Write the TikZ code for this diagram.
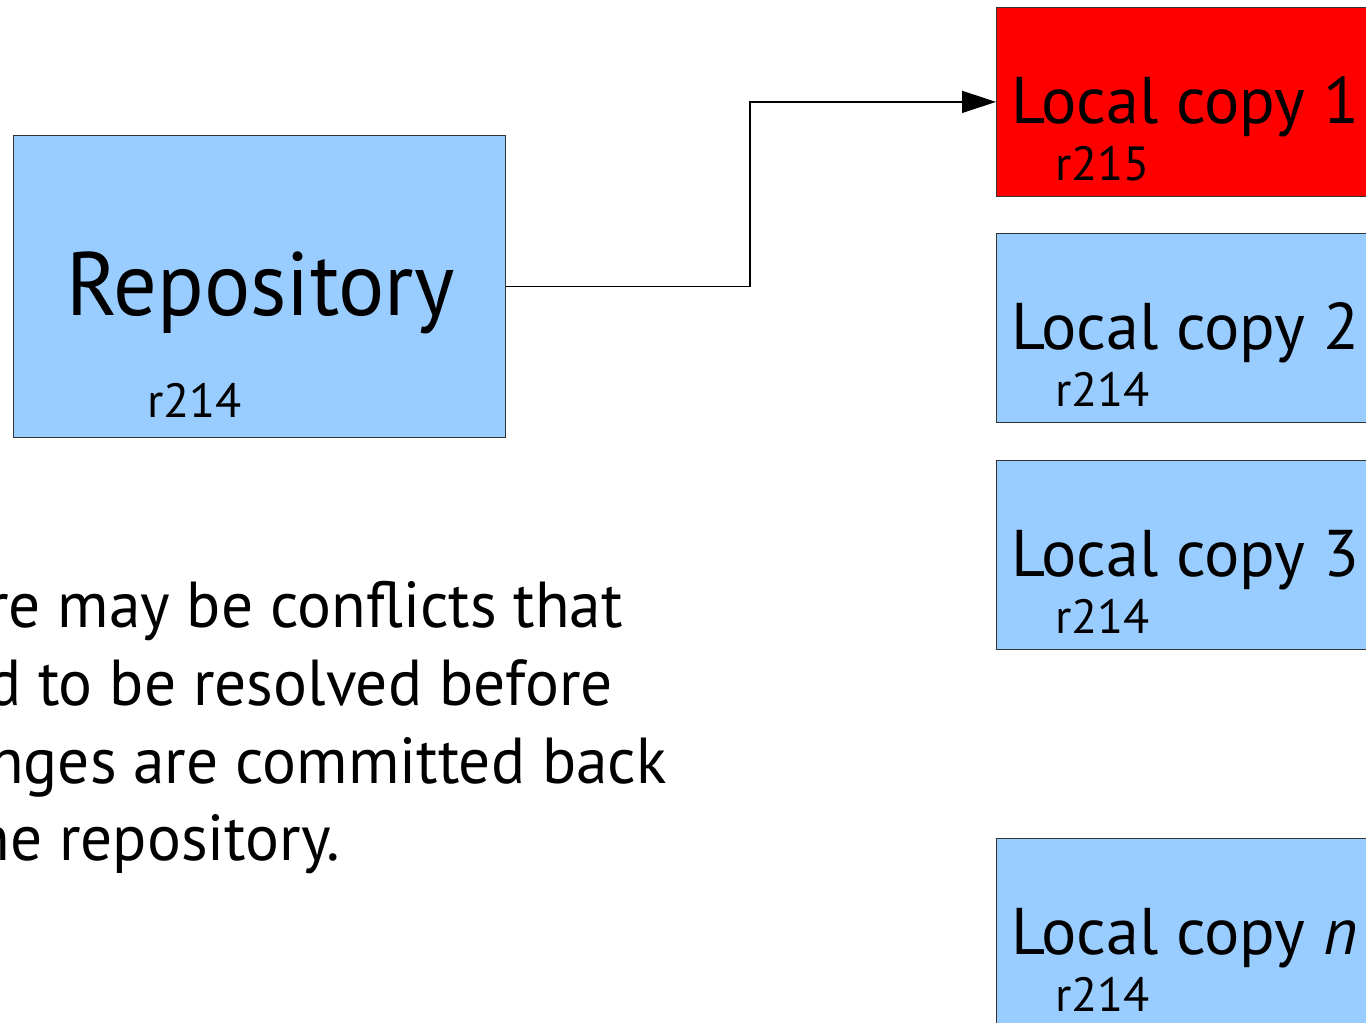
\documentclass[tikz,border=0pt]{standalone}
\usepackage{fontspec}
\setmainfont{PT Sans}
\newfontfamily\repofont[FakeStretch=0.96]{PT Sans}
\newfontfamily\notefont[FakeStretch=0.975]{PT Sans}
\usetikzlibrary{arrows.meta,calc}
\definecolor{boxblue}{HTML}{99CCFF}
\definecolor{boxred}{HTML}{FF0000}
\newcommand{\fsz}[1]{\fontsize{#1}{#1}\selectfont}
\tikzset{
  box/.style={draw=black!80, line width=0.8pt, fill=boxblue, anchor=north west,
    inner sep=0pt, minimum width=#1},
  box/.default=420pt,
  title/.style={inner sep=0pt, anchor=base west, font=\fsz{66}},
  rev/.style={inner sep=0pt, anchor=base west, font=\fsz{48}},
  note/.style={inner sep=0pt, anchor=base east, font=\notefont\fsz{65}},
  link/.style={line width=1.3pt, -{Triangle[length=34pt,width=22pt]}},
}
\begin{document}
\begin{tikzpicture}[x=1pt,y=-1pt]
\useasboundingbox (0,0) rectangle (1366,1023);
\clip (0,0) rectangle (1366,1023);
\fill[white] (0,0) rectangle (1366,1023);

% repository
\node[box=492pt, minimum height=302pt] (repo) at (13,135) {};
\node[inner sep=0pt, anchor=base, font=\repofont\fsz{90}] (repotitle) at ($(repo.north)+(1,180)$) {Repository};
\node[rev] (reporev) at ($(repo.north west)+(134,282)$) {r214};

% local working copies
\node[box, fill=boxred, minimum height=189pt] (lc1) at (996,7) {};
\node[box, minimum height=189pt] (lc2) at (996,233) {};
\node[box, minimum height=189pt] (lc3) at (996,460) {};
\node[box, minimum height=189pt] (lcn) at (996,838) {};

\foreach \b/\t/\r in {lc1/1/r215, lc2/2/r214, lc3/3/r214, lcn/\textit{n}/r214}{
  \node[title] (\b-title) at ($(\b.north west)+(15,116)$) {Local copy \t};
  \node[rev] (\b-rev) at ($(\b.north west)+(59,173)$) {\r};
}

% checkout connector
\draw[link] (repo.east) -- (repo.east -| 750,0) |- (lc1.west);

% note
\node[note] (n1) at (623,627) {There may be conflicts that};
\node[note] (n2) at (613,705) {need to be resolved before};
\node[note] (n3) at (667,783) {changes are committed back};
\node[note] (n4) at (340,860) {to the repository.};
\end{tikzpicture}
\end{document}
